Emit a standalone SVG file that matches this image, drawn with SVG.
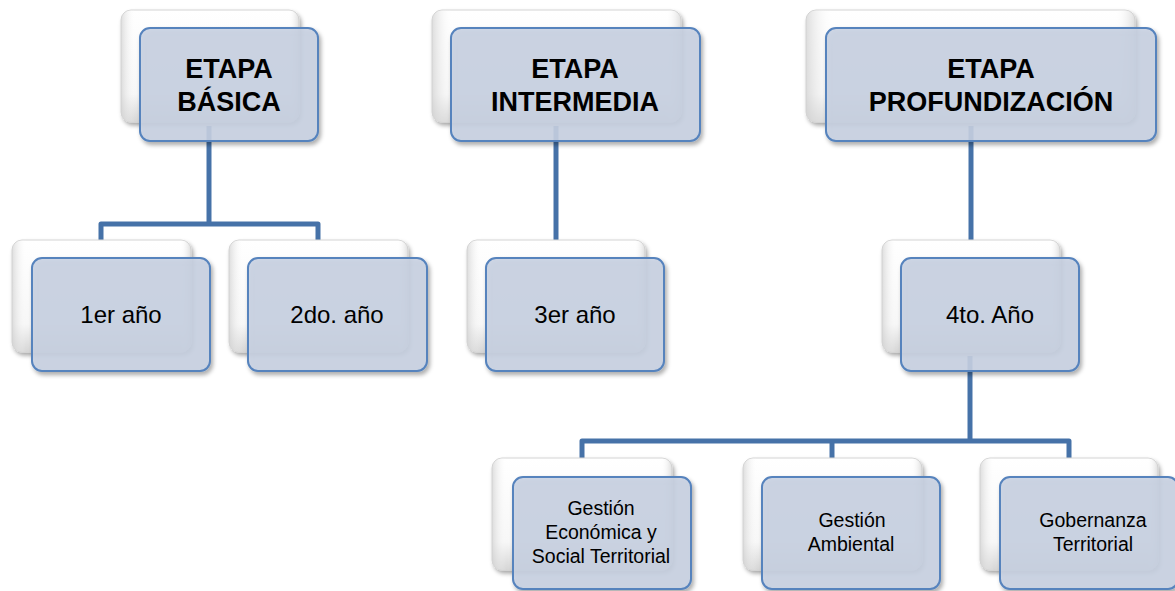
<svg xmlns="http://www.w3.org/2000/svg" width="1175" height="591" viewBox="0 0 1175 591">
  <defs>
    <linearGradient id="backGrad" x1="0" y1="0" x2="0" y2="1">
      <stop offset="0" stop-color="#ffffff"/>
      <stop offset="0.75" stop-color="#f7f7f7"/>
      <stop offset="1" stop-color="#d6d6d6"/>
    </linearGradient>
    <linearGradient id="backGradH" x1="0" y1="0" x2="1" y2="0">
      <stop offset="0" stop-color="#cfcfcf" stop-opacity="0.7"/>
      <stop offset="0.08" stop-color="#ffffff" stop-opacity="0"/>
      <stop offset="0.94" stop-color="#ffffff" stop-opacity="0"/>
      <stop offset="1" stop-color="#c8c8c8" stop-opacity="0.6"/>
    </linearGradient>
    <filter id="shadow" x="-10%" y="-10%" width="125%" height="130%">
      <feDropShadow dx="2" dy="3" stdDeviation="2.2" flood-color="#000" flood-opacity="0.35"/>
    </filter>
  </defs>
  <style>
    .back { fill: url(#backGrad); stroke: #d4d4d4; stroke-width: 1; filter: url(#shadow); }
    .backH { fill: url(#backGradH); stroke: none; }
    .front { fill: #c8d1e2; fill-opacity: 0.88; stroke: #5683bd; stroke-width: 2; filter: url(#shadow); }
    .conn { fill: none; stroke: #4672a8; stroke-width: 5; stroke-linejoin: round; }
    .t1 { font-family: "Liberation Sans", Arial, sans-serif; font-weight: bold; font-size: 27px; fill: #000; text-anchor: middle; }
    .t2 { font-family: "Liberation Sans", Arial, sans-serif; font-size: 24px; fill: #000; text-anchor: middle; }
    .t3 { font-family: "Liberation Sans", Arial, sans-serif; font-size: 19.5px; fill: #000; text-anchor: middle; }
  </style>

  <g id="connectors">
    <path class="conn" d="M209,126 V224"/>
    <path class="conn" d="M101,242 V224 H318 V242"/>
    <path class="conn" d="M556,126 V242"/>
    <path class="conn" d="M971,126 V242"/>
    <path class="conn" d="M970,356 V441"/>
    <path class="conn" d="M582,460 V441 H1069 V460"/>
    <path class="conn" d="M832,441 V460"/>
  </g>

  <g id="etapa-basica">
    <rect class="back" x="121" y="10" width="178" height="112" rx="10"/>
    <rect class="backH" x="121" y="10" width="178" height="112" rx="10"/>
    <rect class="front" x="140" y="28" width="178" height="113" rx="10"/>
    <text class="t1" x="229" y="78">ETAPA</text>
    <text class="t1" x="229" y="111">BÁSICA</text>
  </g>

  <g id="etapa-intermedia">
    <rect class="back" x="432" y="10" width="249" height="112" rx="10"/>
    <rect class="backH" x="432" y="10" width="249" height="112" rx="10"/>
    <rect class="front" x="451" y="28" width="249" height="113" rx="10"/>
    <text class="t1" x="575" y="78">ETAPA</text>
    <text class="t1" x="575" y="111">INTERMEDIA</text>
  </g>

  <g id="etapa-profundizacion">
    <rect class="back" x="806" y="10" width="329" height="112" rx="10"/>
    <rect class="backH" x="806" y="10" width="329" height="112" rx="10"/>
    <rect class="front" x="826" y="28" width="330" height="113" rx="10"/>
    <text class="t1" x="991" y="78">ETAPA</text>
    <text class="t1" x="991" y="111">PROFUNDIZACIÓN</text>
  </g>

  <g id="anio-1">
    <rect class="back" x="12" y="240" width="179" height="112" rx="10"/>
    <rect class="backH" x="12" y="240" width="179" height="112" rx="10"/>
    <rect class="front" x="32" y="258" width="178" height="113" rx="10"/>
    <text class="t2" x="121" y="323">1er año</text>
  </g>

  <g id="anio-2">
    <rect class="back" x="229" y="240" width="179" height="112" rx="10"/>
    <rect class="backH" x="229" y="240" width="179" height="112" rx="10"/>
    <rect class="front" x="248" y="258" width="179" height="113" rx="10"/>
    <text class="t2" x="337" y="323">2do. año</text>
  </g>

  <g id="anio-3">
    <rect class="back" x="467" y="240" width="178" height="112" rx="10"/>
    <rect class="backH" x="467" y="240" width="178" height="112" rx="10"/>
    <rect class="front" x="486" y="258" width="178" height="113" rx="10"/>
    <text class="t2" x="575" y="323">3er año</text>
  </g>

  <g id="anio-4">
    <rect class="back" x="882" y="240" width="178" height="112" rx="10"/>
    <rect class="backH" x="882" y="240" width="178" height="112" rx="10"/>
    <rect class="front" x="901" y="258" width="178" height="113" rx="10"/>
    <text class="t2" x="990" y="323">4to. Año</text>
  </g>

  <g id="gestion-economica">
    <rect class="back" x="492" y="458" width="180" height="112" rx="10"/>
    <rect class="backH" x="492" y="458" width="180" height="112" rx="10"/>
    <rect class="front" x="513" y="477" width="178" height="112" rx="10"/>
    <text class="t3" x="601" y="515">Gestión</text>
    <text class="t3" x="601" y="539">Económica y</text>
    <text class="t3" x="601" y="563">Social Territorial</text>
  </g>

  <g id="gestion-ambiental">
    <rect class="back" x="743" y="458" width="179" height="112" rx="10"/>
    <rect class="backH" x="743" y="458" width="179" height="112" rx="10"/>
    <rect class="front" x="762" y="477" width="178" height="112" rx="10"/>
    <text class="t3" x="852" y="527">Gestión</text>
    <text class="t3" x="851" y="551">Ambiental</text>
  </g>

  <g id="gobernanza-territorial">
    <rect class="back" x="980" y="458" width="178" height="112" rx="10"/>
    <rect class="backH" x="980" y="458" width="178" height="112" rx="10"/>
    <rect class="front" x="1000" y="477" width="178" height="112" rx="10"/>
    <text class="t3" x="1093" y="527">Gobernanza</text>
    <text class="t3" x="1093" y="551">Territorial</text>
  </g>
</svg>
